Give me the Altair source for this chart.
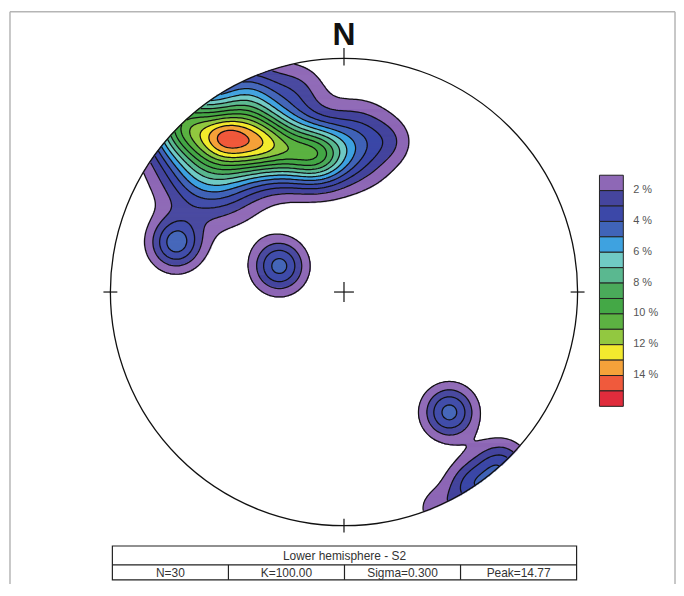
import numpy as np
import pandas as pd
import altair as alt
from collections import defaultdict

# ---------------- data ----------------
# density components (net units: east, north; net radius = 1), amplitude (%),
# spread along / across the component's direction, direction (degrees)
BLOB_E    = [-0.511, -0.357, -0.570, -0.706, -0.409, -0.196, -0.111, 0.060, 0.209,
             -0.277, -0.719, 0.451, 0.549, 0.672, 0.400]
BLOB_N    = [ 0.664,  0.638,  0.528,  0.732,  0.838,  0.860,  0.579, 0.647, 0.647,
              0.111,  0.209, -0.515, -0.834, -0.749, -0.928]
BLOB_AMP  = [ 1.5,   11.5,    6.0,    6.0,    4.0,    1.8,    4.0,   3.3,   0.9,
              4.5,    4.5,    4.5,    3.4,    3.6,    1.5]
BLOB_SIG1 = [ 0.060,  0.204,  0.140,  0.106,  0.106,  0.085,  0.085, 0.111, 0.064,
              0.077,  0.077,  0.077,  0.077,  0.077,  0.068]
BLOB_SIG2 = [ 0.060,  0.102,  0.140,  0.106,  0.106,  0.085,  0.085, 0.111, 0.064,
              0.077,  0.077,  0.077,  0.077,  0.077,  0.068]
BLOB_ANG  = [ 0,    -12,      0,      0,      0,      0,      0,     0,     0,
              0,      0,      0,      0,      0,      0]
PEAK = 14.77

LEVELS = list(range(1, 16))          # contour levels in %
BAND_COLORS = ["#8e68b6", "#45459e", "#3c48a8", "#4064b8", "#3ea2e0", "#70cac4",
               "#5ab890", "#4aaa5a", "#44a846", "#5cb242", "#92c840", "#f2ea2e",
               "#f5a23a", "#f05a3c", "#e02c3c"]
LEGEND_LABELS = ["2 %", "4 %", "6 %", "8 %", "10 %", "12 %", "14 %"]
LEGEND_VALUES = [2, 4, 6, 8, 10, 12, 14]
TITLE_ROW = "Lower hemisphere - S2"
STAT_ROW = ["N=30", "K=100.00", "Sigma=0.300", "Peak=14.77"]

# ---------------- geometry helpers ----------------
CX, CY, RPX = 346.0, 292.0, 235.0
W, H = 672, 576
def ux(px): return (px - CX) / RPX
def uy(py): return (CY - py) / RPX
XDOM = [ux(8), ux(8 + W)]
YDOM = [uy(8 + H), uy(8)]
sx = alt.Scale(domain=XDOM, nice=False, zero=False)
sy = alt.Scale(domain=YDOM, nice=False, zero=False)
def X(f): return alt.X(f, type="quantitative", scale=sx, axis=None)
def Y(f): return alt.Y(f, type="quantitative", scale=sy, axis=None)
def X2(f): return alt.X2(f)
def Y2(f): return alt.Y2(f)

def density(U, V):
    D = np.zeros_like(U)
    for cx, cy, a, s1, s2, ang in zip(BLOB_E, BLOB_N, BLOB_AMP, BLOB_SIG1, BLOB_SIG2, BLOB_ANG):
        c, s = np.cos(np.radians(ang)), np.sin(np.radians(ang))
        du, dv = U - cx, V - cy
        p = du * c + dv * s
        q = -du * s + dv * c
        D += a * np.exp(-(p * p) / (2 * s1 * s1) - (q * q) / (2 * s2 * s2))
    return D

# ---------------- filled bands (row runs on 1px grid) ----------------
px0, px1 = int(CX - RPX) - 1, int(CX + RPX) + 2
py0, py1 = int(CY - RPX) - 1, int(CY + RPX) + 2
pxs = np.arange(px0, px1)
pys = np.arange(py0, py1)
PX, PY = np.meshgrid(pxs + 0.5, pys + 0.5)
U, V = ux(PX), uy(PY)
inside = U ** 2 + V ** 2 <= 1.0
D = density(U, V)
scale = PEAK / D[inside].max()
D *= scale
band = np.clip(np.floor(D), 0, 15).astype(int)
band[~inside] = 0

fill_rows = []
for r in range(band.shape[0]):
    b = band[r]
    ch = np.flatnonzero(np.diff(b)) + 1
    starts = np.r_[0, ch]
    ends = np.r_[ch, len(b)]
    for s_, e_ in zip(starts, ends):
        if b[s_] > 0:
            fill_rows.append(dict(x=ux(px0 + s_), x2=ux(px0 + e_ + 0.3),
                                  y=uy(py0 + r), y2=uy(py0 + r + 1.3), band=int(b[s_])))
fill_df = pd.DataFrame(fill_rows)

# ---------------- contour lines (marching squares, 2px grid) ----------------
step = 2.0
gx = np.arange(px0, px1 + step, step)
gy = np.arange(py0, py1 + step, step)
GX, GY = np.meshgrid(gx, gy)
G = density(ux(GX), uy(GY)) * scale
CASES = {1: [(3, 0)], 2: [(0, 1)], 3: [(3, 1)], 4: [(1, 2)], 5: [(3, 0), (1, 2)], 6: [(0, 2)],
         7: [(3, 2)], 8: [(2, 3)], 9: [(0, 2)], 10: [(0, 1), (2, 3)], 11: [(1, 2)], 12: [(1, 3)],
         13: [(0, 1)], 14: [(3, 0)]}

def edge_key(e, j, i):
    return [("h", j, i), ("v", j, i + 1), ("h", j + 1, i), ("v", j, i)][e]

def edge_pt(key, L):
    k, j, i = key
    if k == "h":
        a, b = G[j, i], G[j, i + 1]
        t = (L - a) / (b - a)
        return gx[i] + t * step, gy[j]
    a, b = G[j, i], G[j + 1, i]
    t = (L - a) / (b - a)
    return gx[i], gy[j] + t * step

line_rows = []
cid = 0
for L in LEVELS:
    B = (G >= L).astype(int)
    idx = B[:-1, :-1] * 1 + B[:-1, 1:] * 2 + B[1:, 1:] * 4 + B[1:, :-1] * 8
    segs = []
    js, is_ = np.nonzero((idx > 0) & (idx < 15))
    for j, i in zip(js, is_):
        ccx, ccy = gx[i] + step / 2, gy[j] + step / 2
        if (ccx - CX) ** 2 + (ccy - CY) ** 2 > (RPX - 0.5) ** 2:
            continue
        for ea, eb in CASES[idx[j, i]]:
            segs.append((edge_key(ea, j, i), edge_key(eb, j, i)))
    adj = defaultdict(list)
    for k, (a, b) in enumerate(segs):
        adj[a].append(k)
        adj[b].append(k)
    used = [False] * len(segs)
    for k in range(len(segs)):
        if used[k]:
            continue
        used[k] = True
        path = [segs[k][0], segs[k][1]]
        for _ in range(2):
            cur = path[-1]
            while True:
                nxt = None
                for m in adj[cur]:
                    if not used[m]:
                        nxt = m
                        break
                if nxt is None:
                    break
                used[nxt] = True
                p, q = segs[nxt]
                cur = q if p == cur else p
                path.append(cur)
            path.reverse()
        for o, key in enumerate(path):
            ex, ey = edge_pt(key, L)
            line_rows.append(dict(x=ux(ex), y=uy(ey), cid=cid, o=o))
        cid += 1
line_df = pd.DataFrame(line_rows)

# ---------------- layers ----------------
band_scale = alt.Scale(domain=LEVELS, range=BAND_COLORS)
fills = alt.Chart(fill_df).mark_rect(strokeWidth=0.5).encode(
    x=X("x"), x2=X2("x2"), y=Y("y"), y2=Y2("y2"),
    color=alt.Color("band:O", scale=band_scale, legend=None),
    stroke=alt.Stroke("band:O", scale=band_scale, legend=None))

lines = alt.Chart(line_df).mark_line(color="#111111", strokeWidth=1.25, interpolate="linear").encode(
    x=X("x"), y=Y("y"), detail="cid:N", order="o:Q")

circle = alt.Chart(pd.DataFrame({"x": [0.0], "y": [0.0]})).mark_point(
    shape="circle", size=float((2 * RPX) ** 2), filled=False, color="#111", strokeWidth=1.3, opacity=1
).encode(x=X("x"), y=Y("y"))

t = 7.0 / RPX
ticks_df = pd.DataFrame({
    "x": [0, 0, -1 - t, 1 - t, -10 / RPX, 0],
    "x2": [0, 0, -1 + t, 1 + t, 10 / RPX, 0],
    "y": [1 - t, -1 - t, 0, 0, 0, -10 / RPX],
    "y2": [1 + 1.5 * t, -1 + t, 0, 0, 0, 10 / RPX]})
ticks = alt.Chart(ticks_df).mark_rule(color="#111", strokeWidth=1.2).encode(
    x=X("x"), x2=X2("x2"), y=Y("y"), y2=Y2("y2"))

north = alt.Chart(pd.DataFrame({"x": [0.0], "y": [uy(43)], "t": ["N"]})).mark_text(
    font="Liberation Sans", fontSize=32, fontWeight="bold", baseline="alphabetic", align="center", color="#111"
).encode(x=X("x"), y=Y("y"), text="t:N")

# legend colour bar
ltop, lh = 174.5, 15.5
leg_df = pd.DataFrame({"band": LEVELS,
                       "x": [ux(603)] * 15, "x2": [ux(627)] * 15,
                       "y": [uy(ltop + (k - 1) * lh) for k in LEVELS],
                       "y2": [uy(ltop + k * lh) for k in LEVELS]})
legend_bar = alt.Chart(leg_df).mark_rect(stroke="#222", strokeWidth=1).encode(
    x=X("x"), x2=X2("x2"), y=Y("y"), y2=Y2("y2"),
    color=alt.Color("band:O", scale=band_scale, legend=None))
lab_df = pd.DataFrame({"t": LEGEND_LABELS, "x": [ux(637)] * 7,
                       "y": [uy(ltop + (v - 1) * lh - 0.5) for v in LEGEND_VALUES]})
legend_lab = alt.Chart(lab_df).mark_text(
    font="Liberation Sans", fontSize=11, align="left", baseline="middle", color="#555"
).encode(x=X("x"), y=Y("y"), text="t:N")

# info table
tb_x = [113, 229.75, 346.5, 463.25, 580]
tab_rect = alt.Chart(pd.DataFrame({"x": [ux(113)], "x2": [ux(580)], "y": [uy(547.5)], "y2": [uy(581.5)]})).mark_rect(
    fill=None, stroke="#222", strokeWidth=1.2).encode(x=X("x"), x2=X2("x2"), y=Y("y"), y2=Y2("y2"))
tab_lines = alt.Chart(pd.DataFrame({
    "x": [ux(113), ux(tb_x[1]), ux(tb_x[2]), ux(tb_x[3])],
    "x2": [ux(580), ux(tb_x[1]), ux(tb_x[2]), ux(tb_x[3])],
    "y": [uy(566.5)] + [uy(566.5)] * 3,
    "y2": [uy(566.5)] + [uy(581.5)] * 3})).mark_rule(color="#222", strokeWidth=1.2).encode(
    x=X("x"), x2=X2("x2"), y=Y("y"), y2=Y2("y2"))
tab_txt_df = pd.DataFrame({
    "t": [TITLE_ROW] + STAT_ROW,
    "x": [ux(346.5)] + [ux((tb_x[k] + tb_x[k + 1]) / 2) for k in range(4)],
    "y": [uy(557.5)] + [uy(574.5)] * 4})
tab_txt = alt.Chart(tab_txt_df).mark_text(
    font="Liberation Sans", fontSize=12, align="center", baseline="middle", color="#333"
).encode(x=X("x"), y=Y("y"), text="t:N")

# light frame around figure
frame = alt.Chart(pd.DataFrame({
    "x": [ux(10), ux(10), ux(679)], "x2": [ux(679), ux(10), ux(679)],
    "y": [uy(10), uy(10), uy(10)], "y2": [uy(10), uy(700), uy(700)]})).mark_rule(
    color="#b5b5b5", strokeWidth=1.5).encode(x=X("x"), x2=X2("x2"), y=Y("y"), y2=Y2("y2"))

chart = alt.layer(frame, fills, lines, circle, ticks, north, legend_bar, legend_lab,
                  tab_rect, tab_lines, tab_txt).properties(
    width=W, height=H, autosize=alt.AutoSizeParams(type="none"), padding=0,
    background="white").configure_view(stroke=None)

chart.save("out.html", embed_options={"renderer": "svg", "actions": False})
